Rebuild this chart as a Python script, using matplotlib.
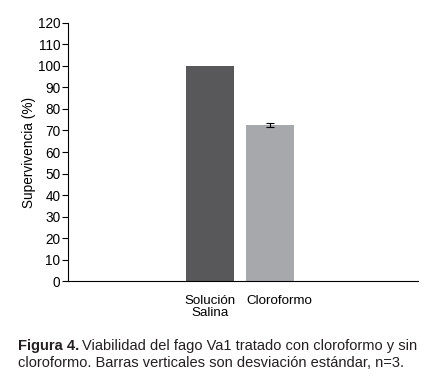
import matplotlib.pyplot as plt
import matplotlib.transforms as mtransforms
import numpy as np

plt.rcParams['font.family'] = ['Liberation Sans', 'DejaVu Sans']

categories = ['Solución\nSalina', 'Cloroformo']
values = [100, 72.5]
errors = [0, 1.0]
colors = ['#58585a', '#a7a8ab']

fig = plt.figure(figsize=(4.33, 3.80), dpi=100)
ax = fig.add_axes([0.157, 0.2605, 0.808, 0.679])

x = np.arange(len(categories))
ax.bar(x, values, width=0.8, color=colors)
ax.errorbar(x[1:], values[1:], yerr=errors[1:], fmt='none', ecolor='black',
            elinewidth=0.8, capsize=3, capthick=0.8)

ax.set_xlim(-2.367, 3.467)
ax.set_ylim(0, 120)
ax.set_yticks(range(0, 121, 10))
ax.set_xticks(x)
ax.set_xticklabels(categories, fontsize=9.6, linespacing=1.0)
ax.tick_params(axis='x', length=0, pad=10)
ax.tick_params(axis='y', labelsize=9.8, length=4, width=0.8, pad=1.5)
# nudge the second category label right, as in the reference
lbl = ax.get_xticklabels()[1]
lbl.set_transform(lbl.get_transform() +
                  mtransforms.ScaledTranslation(0.09, 0, fig.dpi_scale_trans))
for s in ['top', 'right']:
    ax.spines[s].set_visible(False)
ax.spines['left'].set_linewidth(0.8)
ax.spines['bottom'].set_linewidth(0.8)
ax.set_ylabel('Supervivencia (%)', fontsize=9.8, labelpad=1.5)

cap_color = '#231f20'
fs = 10.5
t1 = fig.text(18 / 433, 1 - 350 / 380, 'Figura 4.', fontsize=fs,
              fontweight='bold', color=cap_color)
fig.canvas.draw()
bb = t1.get_window_extent()
fig.text((bb.x1 + 3) / 433, 1 - 350 / 380,
         'Viabilidad del fago Va1 tratado con cloroformo y sin',
         fontsize=fs, color=cap_color)
fig.text(18 / 433, 1 - 367 / 380,
         'cloroformo. Barras verticales son desviación estándar, n=3.',
         fontsize=fs, color=cap_color)

fig.savefig('out.png', dpi=100)
